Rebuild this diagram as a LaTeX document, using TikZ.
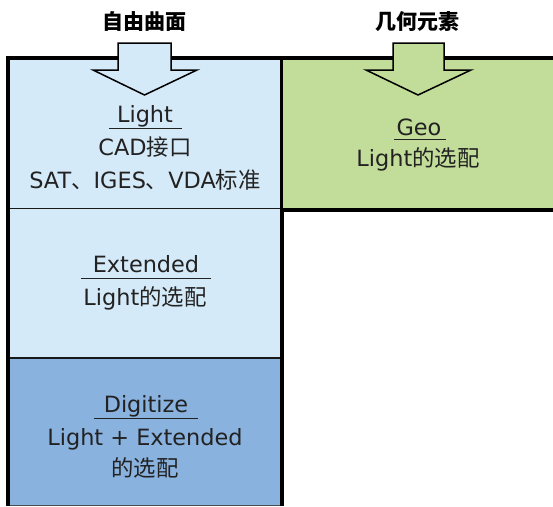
\documentclass[tikz,border=0pt]{standalone}
\usepackage{fontspec}
\setmainfont{DejaVu Sans}
\newfontfamily\cjk{Noto Sans CJK SC}
\newcommand\zh[1]{{\cjk #1}}
\definecolor{lightb}{HTML}{D5EAF8}
\definecolor{darkb}{HTML}{89B2DF}
\definecolor{greenf}{HTML}{C2DC99}
\definecolor{txt}{HTML}{222222}
\tikzset{
  lbl/.style={anchor=base, inner sep=0pt, text=txt, font=\fontsize{22.4}{26}\selectfont},
  hdr/.style={anchor=base, inner sep=0pt, text=black, font=\fontsize{21}{24}\selectfont\cjk\bfseries},
  thinb/.style={draw=black!90, line width=1.8pt},
  thickb/.style={draw=black, line width=4pt},
  uline/.style={draw=txt, line width=1pt},
  blockarrow/.style={draw=black, line width=1.5pt, line join=miter},
}
\begin{document}
\begin{tikzpicture}[x=1pt,y=-1pt]
\useasboundingbox (0,0) rectangle (553,506);
% fills
\fill[lightb] (8,58) rectangle (282,209);
\fill[lightb] (8,209) rectangle (282,358);
\fill[darkb] (8,358) rectangle (282,506);
\fill[greenf] (282,58) rectangle (553,209);
% thin borders
\draw[thinb] (8,208.5) -- (282,208.5);
\draw[thinb] (8,358) -- (282,358);
\draw[draw=black!70, line width=1pt] (8,505.5) -- (282,505.5);
\draw[draw=black, line width=3pt] (281.5,58) -- (281.5,209);
% thick frame
\draw[thickb] (8,506) -- (8,58) -- (553,58);
\draw[thickb] (282,506) -- (282,209.5) -- (553,209.5);
% block arrows
\draw[blockarrow, fill=lightb] (118,43) -- (171,43) -- (171,70) -- (197,70) -- (144.5,95) -- (93,70) -- (118,70) -- cycle;
\draw[blockarrow, fill=greenf] (393,43) -- (444,43) -- (444,70) -- (471,70) -- (418,95) -- (366,70) -- (393,70) -- cycle;
% headers
\node[hdr] (h1) at (144,29.5) {自由曲面};
\node[hdr] (h2) at (417,29.5) {几何元素};
% box 1
\node[lbl] (t1) at (145,122.5) {Light};
\draw[uline] ([xshift=-36pt,yshift=-5.5pt]t1.base) -- ([xshift=37pt,yshift=-5.5pt]t1.base);
\node[lbl] (t1a) at (145,155) {CAD\zh{接口}};
\node[lbl] (t1b) at (145,188) {SAT\zh{、}IGES\zh{、}VDA\zh{标准}};
% green box
\node[lbl] (g1) at (419,135) {Geo};
\draw[uline] ([xshift=-25pt,yshift=-4pt]g1.base) -- ([xshift=27pt,yshift=-4pt]g1.base);
\node[lbl] (g1a) at (418,166) {Light\zh{的选配}};
% box 2
\node[lbl] (t2) at (146,272) {Extended};
\draw[uline] ([xshift=-65pt,yshift=-6pt]t2.base) -- ([xshift=65pt,yshift=-6pt]t2.base);
\node[lbl] (t2a) at (145,305) {Light\zh{的选配}};
% box 3
\node[lbl] (t3) at (146,412.7) {Digitize};
\draw[uline] ([xshift=-52pt,yshift=-6pt]t3.base) -- ([xshift=52pt,yshift=-6pt]t3.base);
\node[lbl] (t3a) at (145,445.7) {Light + Extended};
\node[lbl] (t3b) at (145,476) {\zh{的选配}};
\end{tikzpicture}
\end{document}
